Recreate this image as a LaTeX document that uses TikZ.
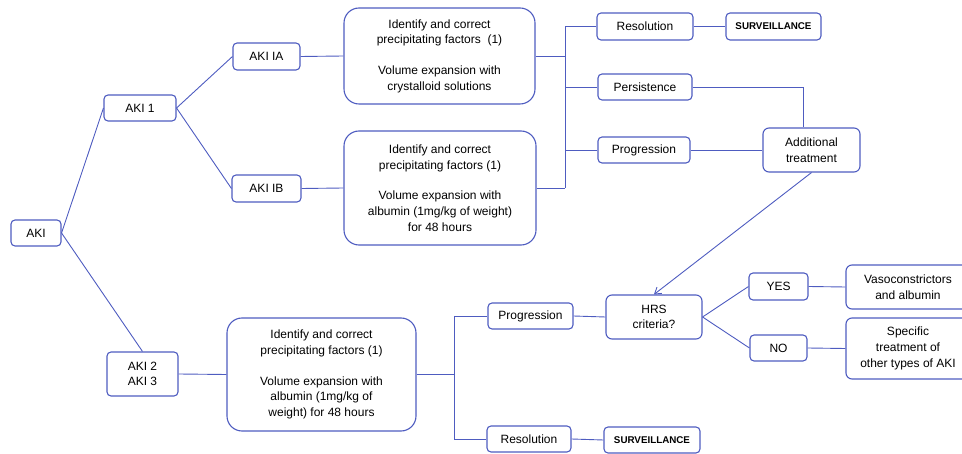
\documentclass[tikz,border=0pt]{standalone}
\usepackage{fontspec}
\setmainfont{Liberation Sans}
\usetikzlibrary{arrows.meta}
\definecolor{bl}{RGB}{78,92,192}
\begin{document}
\begin{tikzpicture}[x=1pt,y=-1pt,
  box/.style={draw=bl,line width=1.1pt,rounded corners=4pt,inner sep=0pt,align=center,
    font=\fontsize{12}{15.7}\selectfont,text=black},
  bigbox/.style={box,rounded corners=15pt},
  survbox/.style={box,font=\fontsize{9.8}{11}\selectfont\bfseries},
  conn/.style={draw=bl,line width=0.9pt}]
\useasboundingbox (0,0) rectangle (962,454);
% nodes
\node[box,minimum width=50pt,minimum height=26pt] (aki) at (36,233) {AKI};
\node[box,minimum width=72pt,minimum height=26pt] (aki1) at (140,108) {AKI 1};
\node[box,minimum width=67pt,minimum height=27pt] (akiia) at (266.5,56.5) {AKI IA};
\node[box,minimum width=69pt,minimum height=27pt] (akiib) at (266.5,188.5) {AKI IB};
\node[bigbox,minimum width=191pt,minimum height=96pt] (box1) at (439.5,56) {Identify and correct\\precipitating factors\ \ (1)\\[15pt]Volume expansion with\\crystalloid solutions};
\node[bigbox,minimum width=192pt,minimum height=114pt] (box2) at (440,188) {Identify and correct\\precipitating factors (1)\\[15pt]Volume expansion with\\albumin (1mg/kg of weight)\\for 48 hours};
\node[box,minimum width=96pt,minimum height=27pt] (res1) at (645,26.5) {Resolution};
\node[survbox,minimum width=95pt,minimum height=27pt] (surv1) at (773.5,26.5) {SURVEILLANCE};
\node[box,minimum width=94pt,minimum height=26pt] (pers) at (645,87) {Persistence};
\node[box,minimum width=92pt,minimum height=26pt] (prog1) at (644,150) {Progression};
\node[box,minimum width=97pt,minimum height=44pt,rounded corners=6pt] (add) at (811.5,150) {Additional\\treatment};
\node[box,minimum width=71pt,minimum height=44pt] (aki23) at (142.5,374) {AKI 2\\AKI 3};
\node[bigbox,minimum width=189pt,minimum height=113pt] (box3) at (321.5,374.5) {Identify and correct\\precipitating factors (1)\\[15pt]Volume expansion with\\albumin (1mg/kg of\\weight) for 48 hours};
\node[box,minimum width=85pt,minimum height=26pt] (prog2) at (530.5,316) {Progression};
\node[box,minimum width=84pt,minimum height=26pt] (res2) at (529,439) {Resolution};
\node[survbox,minimum width=96pt,minimum height=26pt] (surv2) at (652,440) {SURVEILLANCE};
\node[box,minimum width=96pt,minimum height=44pt,rounded corners=6pt] (hrs) at (654,317) {HRS\\criteria?};
\node[box,minimum width=59pt,minimum height=27pt] (yes) at (778.5,286.5) {YES};
\node[box,minimum width=57pt,minimum height=26pt] (no) at (778.5,348) {NO};
\node[box,minimum width=124pt,minimum height=44pt,rounded corners=6pt] (vaso) at (908,287) {Vasoconstrictors\\and albumin};
\node[box,minimum width=124pt,minimum height=61pt,rounded corners=6pt] (spec) at (908,348.5) {Specific\\treatment of\\other types of AKI};
% junction coordinates
\coordinate (j1) at (565,0);
\coordinate (j2) at (454,0);
% connectors
\draw[conn] (aki.east) -- (aki1.west);
\draw[conn] (aki.east) -- (aki23.north);
\draw[conn] (aki1.east) -- (akiia.west);
\draw[conn] (aki1.east) -- (akiib.west);
\draw[conn] (akiia.east) -- (box1.west);
\draw[conn] (akiib.east) -- (box2.west);
\draw[conn] (box1.east) -- (box1.east -| j1);
\draw[conn] (box2.east) -- (box2.east -| j1);
\draw[conn] (res1.west -| j1) -- (box2.east -| j1);
\draw[conn] (res1.west -| j1) -- (res1.west);
\draw[conn] (pers.west -| j1) -- (pers.west);
\draw[conn] (prog1.west -| j1) -- (prog1.west);
\draw[conn] (res1.east) -- (surv1.west);
\draw[conn] (pers.east) -| ([xshift=-8pt]add.north);
\draw[conn] (prog1.east) -- (add.west);
\draw[conn,-{Straight Barb[length=6pt,width=8pt]}] (add.south) -- (hrs.north);
\draw[conn] (aki23.east) -- (box3.west);
\draw[conn] (box3.east) -- (box3.east -| j2);
\draw[conn] (prog2.west -| j2) -- (res2.west -| j2);
\draw[conn] (prog2.west -| j2) -- (prog2.west);
\draw[conn] (res2.west -| j2) -- (res2.west);
\draw[conn] (res2.east) -- (surv2.west);
\draw[conn] (prog2.east) -- (hrs.west);
\draw[conn] (hrs.east) -- (yes.west);
\draw[conn] (hrs.east) -- (no.west);
\draw[conn] (yes.east) -- (vaso.west);
\draw[conn] (no.east) -- (spec.west);
\end{tikzpicture}
\end{document}
